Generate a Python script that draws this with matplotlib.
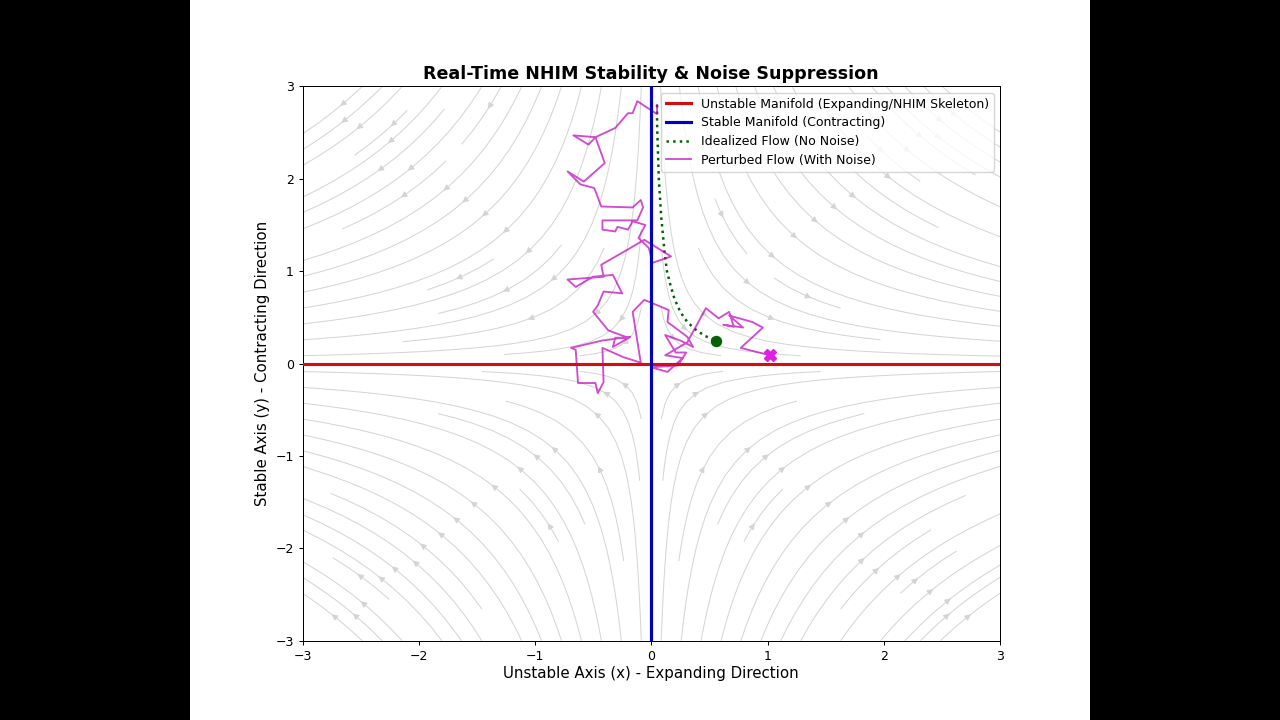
import numpy as np
import matplotlib
matplotlib.use('Agg')
import matplotlib.pyplot as plt

# Perturbed (noisy) trajectory
noisy_x = [0.05, 0.05, -0.12, -0.16, -0.20, -0.31, -0.48, -0.67, -0.54, -0.48,
           -0.40, -0.58, -0.72, -0.61, -0.49, -0.43, -0.16, -0.09, -0.07, -0.12,
           -0.42, -0.42, -0.31, -0.29, -0.20, -0.16, -0.05, -0.11, -0.02, 0.01,
           0.17, -0.06, -0.25, -0.43, -0.41, -0.72, -0.65, -0.50, -0.33, -0.25,
           -0.41, -0.46, -0.50, -0.37, -0.20, -0.31, -0.33, -0.18, -0.42, -0.69,
           -0.65, -0.63, -0.48, -0.46, -0.41, -0.42, -0.24, -0.09, -0.16, -0.06,
           0.15, 0.14, 0.31, 0.36, 0.25, 0.12, 0.21, 0.30, 0.23, 0.00,
           0.14, 0.27, 0.12, 0.31, 0.47, 0.58, 0.67, 0.71, 0.62, 0.79,
           0.67, 0.87, 0.96, 0.77, 1.02]
noisy_y = [2.80, 2.70, 2.84, 2.71, 2.71, 2.55, 2.45, 2.47, 2.37, 2.45,
           2.17, 1.97, 2.08, 1.94, 1.90, 1.70, 1.69, 1.77, 1.69, 1.55,
           1.55, 1.45, 1.43, 1.48, 1.45, 1.54, 1.50, 1.36, 1.25, 1.09,
           1.16, 1.34, 1.20, 1.07, 0.94, 0.91, 0.83, 0.94, 0.96, 0.76,
           0.78, 0.63, 0.56, 0.36, 0.28, 0.28, 0.18, 0.29, 0.25, 0.17,
           0.15, -0.21, -0.21, -0.32, -0.20, 0.17, 0.07, 0.01, 0.56, 0.69,
           0.58, 0.45, 0.29, 0.18, 0.25, 0.31, 0.12, 0.12, -0.02, -0.04,
           -0.09, 0.06, 0.09, 0.23, 0.60, 0.49, 0.56, 0.40, 0.42, 0.39,
           0.52, 0.45, 0.39, 0.17, 0.09]

# Idealized (noise-free) trajectory
ideal_x = [0.05, 0.05, 0.055, 0.06, 0.065, 0.075, 0.085, 0.10, 0.115, 0.135,
           0.165, 0.20, 0.25, 0.31, 0.38, 0.46, 0.56]
ideal_y = [2.80, 2.60, 2.40, 2.20, 2.00, 1.80, 1.60, 1.40, 1.20, 1.00,
           0.85, 0.70, 0.56, 0.45, 0.37, 0.30, 0.25]

s = 0.9  # the frame is a 10x8 figure scaled to 900x720

fig = plt.figure(figsize=(12.8, 7.2), dpi=100, facecolor='black')
bg = fig.add_axes([190 / 1280, 0, 900 / 1280, 1], zorder=-1)
bg.set_facecolor('white')
bg.set_xticks([])
bg.set_yticks([])
for sp in bg.spines.values():
    sp.set_visible(False)

ax = fig.add_axes([302.5 / 1280, 79.2 / 720, 697.5 / 1280, 554.4 / 720])

# saddle vector field: dx/dt = x, dy/dt = -y
gx = np.linspace(-3, 3, 30)
gy = np.linspace(-3, 3, 30)
X, Y = np.meshgrid(gx, gy)
ax.streamplot(X, Y, X, -Y, color='#d4d4d4', density=1.2, linewidth=0.8 * s,
              arrowsize=1.0 * s, zorder=1)

ax.axhline(0, color='#d01010', lw=2.5 * s, zorder=4,
           label='Unstable Manifold (Expanding/NHIM Skeleton)')
ax.axvline(0, color='#0000c0', lw=2.5 * s, zorder=4,
           label='Stable Manifold (Contracting)')
ax.plot(ideal_x, ideal_y, color='darkgreen', ls=':', lw=2 * s, zorder=3,
        label='Idealized Flow (No Noise)')
ax.plot(noisy_x, noisy_y, color='m', alpha=0.7, lw=1.5 * s, zorder=3,
        label='Perturbed Flow (With Noise)')
ax.plot(ideal_x[-1], ideal_y[-1], 'o', color='darkgreen', ms=8 * s, zorder=5)
ax.plot(noisy_x[-1], noisy_y[-1], 'X', color='#e020e0', ms=9 * s, zorder=5)

ax.set_xlim(-3, 3)
ax.set_ylim(-3, 3)
ax.set_title('Real-Time NHIM Stability & Noise Suppression', fontsize=14 * s,
             fontweight='bold', pad=6 * s)
ax.set_xlabel('Unstable Axis (x) - Expanding Direction', fontsize=12 * s, labelpad=3 * s)
ax.set_ylabel('Stable Axis (y) - Contracting Direction', fontsize=12 * s, labelpad=4 * s)
ax.tick_params(labelsize=10 * s, length=3.5 * s, width=0.8 * s, pad=3.5 * s)
for sp in ax.spines.values():
    sp.set_linewidth(0.8 * s)
ax.legend(loc='upper right', fontsize=10 * s, labelspacing=0.45)

fig.savefig('out.png', dpi=100, facecolor='black')
